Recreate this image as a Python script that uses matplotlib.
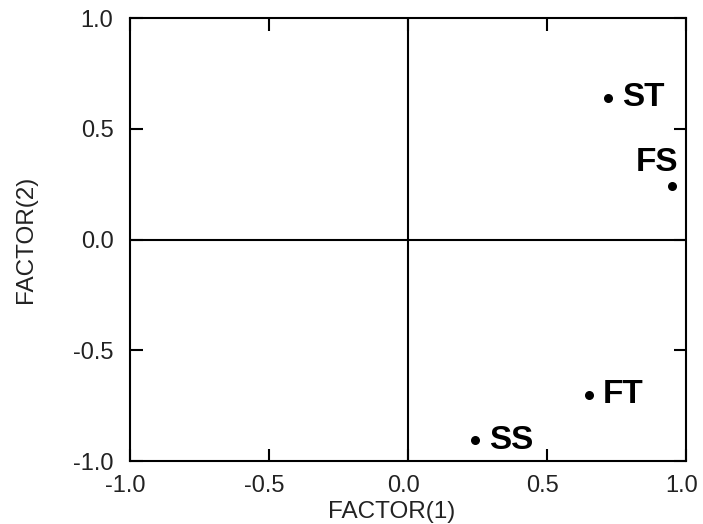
import matplotlib
matplotlib.use("Agg")
import matplotlib.pyplot as plt
from matplotlib.transforms import ScaledTranslation

labels = ["ST", "FS", "FT", "SS"]
factor1 = [0.72, 0.95, 0.65, 0.24]
factor2 = [0.64, 0.24, -0.70, -0.905]
label_offsets = [(10, 0), (-11, 17), (10, 0), (10, 0)]  # points
label_ha = ["left", "center", "left", "left"]
ticks = [-1.0, -0.5, 0.0, 0.5, 1.0]
tick_labels = ["-1.0", "-0.5", "0.0", "0.5", "1.0"]

plt.rcParams['font.family'] = ['Liberation Sans', 'DejaVu Sans']
fig = plt.figure(figsize=(7.03, 5.24), dpi=100)
ax = fig.add_axes([0.185, 0.12, 0.791, 0.8456])
ax.set_xlim(-1, 1)
ax.set_ylim(-1, 1)
ax.axhline(0, color='black', lw=1.5)
ax.axvline(0, color='black', lw=1.5)
ax.scatter(factor1, factor2, s=30, color='black', zorder=3)
for x, y, t, off, ha in zip(factor1, factor2, labels, label_offsets, label_ha):
    ax.annotate(t, (x, y), xytext=off, textcoords='offset points',
                ha=ha, va='center', fontsize=24, fontweight='bold')
ax.set_xticks(ticks)
ax.set_xticklabels(tick_labels)
ax.set_yticks(ticks)
ax.set_yticklabels(tick_labels)
ax.tick_params(direction='in', length=9, width=1.5, top=True, right=True,
               labelsize=17, color='black', labelcolor='#222222')
ax.tick_params(axis='x', pad=10)
ax.tick_params(axis='y', pad=12)
shift = ScaledTranslation(-5 / 100, 0, fig.dpi_scale_trans)
for lbl in ax.get_xticklabels():
    lbl.set_transform(lbl.get_transform() + shift)
for s in ax.spines.values():
    s.set_linewidth(1.5)
ax.set_xlabel("FACTOR(1)", fontsize=17.5, color='#222222')
ax.xaxis.set_label_coords(0.47, -0.091)
ax.xaxis.label.set_va('top')
ax.set_ylabel("FACTOR(2)", fontsize=17.5, color='#222222', labelpad=26)
fig.savefig("out.png", dpi=100)
